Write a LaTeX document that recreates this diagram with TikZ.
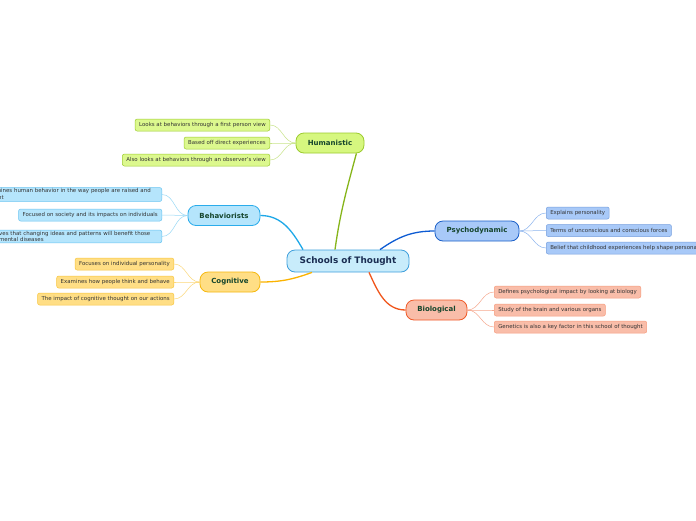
\documentclass[tikz,border=0pt]{standalone}
\usepackage{fontspec}
\setmainfont{DejaVu Sans}
\usetikzlibrary{calc}
\definecolor{rootfill}{HTML}{C8ECFB}
\definecolor{rootdraw}{HTML}{3E9FDC}
\definecolor{roottext}{HTML}{1A2D52}
\definecolor{brtext}{HTML}{15452C}
\definecolor{chtext}{HTML}{333333}
\definecolor{humfill}{HTML}{D6F77F}
\definecolor{humdraw}{HTML}{9CCB2E}
\definecolor{humline}{HTML}{86B51A}
\definecolor{humch}{HTML}{DCF88E}
\definecolor{humchline}{HTML}{C8E48A}
\definecolor{behfill}{HTML}{B5E5FC}
\definecolor{behdraw}{HTML}{2AACEB}
\definecolor{behline}{HTML}{1EA8E8}
\definecolor{behchline}{HTML}{9AD9F6}
\definecolor{cogfill}{HTML}{FFDE85}
\definecolor{cogdraw}{HTML}{F6B80E}
\definecolor{cogline}{HTML}{FBB300}
\definecolor{cogchline}{HTML}{FCD87A}
\definecolor{psyfill}{HTML}{A8C9F8}
\definecolor{psydraw}{HTML}{1A5FC8}
\definecolor{psyline}{HTML}{0D5BD3}
\definecolor{psychline}{HTML}{8CB4EE}
\definecolor{biofill}{HTML}{F9BDA9}
\definecolor{biodraw}{HTML}{F05A28}
\definecolor{bioline}{HTML}{F0561C}
\definecolor{biochline}{HTML}{F6A88E}
\tikzset{
  rootbox/.style={draw=rootdraw, fill=rootfill, line width=0.8pt, rounded corners=8pt,
    minimum width=122, minimum height=22, inner sep=0pt, font=\fontsize{8.9}{10}\selectfont\bfseries, text=roottext},
  branchbox/.style={line width=0.8pt, rounded corners=8pt, minimum height=20, inner sep=0pt,
    font=\fontsize{7}{8}\selectfont\bfseries, text=brtext},
  childbox/.style={line width=0.5pt, rounded corners=2pt, minimum height=12, inner xsep=4pt, inner ysep=1pt,
    font=\fontsize{5.45}{6.6}\selectfont, text=chtext, align=left},
  humc/.style={childbox, draw=humdraw, fill=humch},
  behc/.style={childbox, draw=behdraw!70, fill=behfill},
  cogc/.style={childbox, draw=cogdraw!80, fill=cogfill},
  psyc/.style={childbox, draw=psydraw!60, fill=psyfill},
  bioc/.style={childbox, draw=biodraw!60, fill=biofill},
  mainline/.style={line width=1.3pt},
  subline/.style={line width=0.5pt}
}
\begin{document}
\begin{tikzpicture}[x=1pt,y=-1pt]
\useasboundingbox (0,0) rectangle (696,520);
\clip (0,0) rectangle (696,520);
\fill[white] (0,0) rectangle (696,520);

% root
\node[rootbox] (root) at (348,261) {Schools of Thought};

% branches
\node[branchbox, draw=humdraw, fill=humfill, minimum width=68] (hum) at (330,143) {Humanistic};
\node[branchbox, draw=behdraw, fill=behfill, minimum width=72] (beh) at (224,215.5) {Behaviorists};
\node[branchbox, draw=cogdraw, fill=cogfill, minimum width=60] (cog) at (230,282) {Cognitive};
\node[branchbox, draw=psydraw, fill=psyfill, minimum width=84] (psy) at (477,231) {Psychodynamic};
\node[branchbox, draw=biodraw, fill=biofill, minimum width=61] (bio) at (436.5,310) {Biological};

% root connectors
\draw[mainline, humline] ($(root.north)+(-13,0)$) to[out=82,in=255] ($(hum.south east)+(-8,0)$);
\draw[mainline, behline] ($(root.north)+(-45,0)$) to[out=120,in=0] (beh.east);
\draw[mainline, cogline] ($(root.south)+(-36,0)$) to[out=200,in=0] (cog.east);
\draw[mainline, psyline] ($(root.north)+(32,0)$) to[out=35,in=180] (psy.west);
\draw[mainline, bioline] ($(root.south)+(21,0)$) to[out=-65,in=180] (bio.west);

% humanistic children
\node[humc, anchor=east] (h1) at (270,125) {Looks at behaviors through a first person view};
\node[humc, anchor=east] (h2) at (270,143) {Based off direct experiences};
\node[humc, anchor=east] (h3) at (270,160) {Also looks at behaviors through an observer's view};
\foreach \c in {h1,h2,h3} \draw[subline, humchline] (hum.west) to[out=180,in=0] (\c.east);

% behaviorists children
\node[behc, anchor=east, text width=172pt] (b1) at (162,194.5) {Examines human behavior in the way people are raised and\\taught};
\node[behc, anchor=east] (b2) at (162,215) {Focused on society and its impacts on individuals};
\node[behc, anchor=east, text width=172pt] (b3) at (162,236.5) {Believes that changing ideas and patterns will benefit those\\with mental diseases};
\foreach \c in {b1,b2,b3} \draw[subline, behchline] (beh.west) to[out=180,in=0] (\c.east);

% cognitive children
\node[cogc, anchor=east] (c1) at (174,264) {Focuses on individual personality};
\node[cogc, anchor=east] (c2) at (174,282) {Examines how people think and behave};
\node[cogc, anchor=east] (c3) at (174,299) {The impact of cognitive thought on our actions};
\foreach \c in {c1,c2,c3} \draw[subline, cogchline] (cog.west) to[out=180,in=0] (\c.east);

% psychodynamic children
\node[psyc, anchor=west] (p1) at (546,213) {Explains personality};
\node[psyc, anchor=west] (p2) at (546,230.5) {Terms of unconscious and conscious forces};
\node[psyc, anchor=west] (p3) at (546,248) {Belief that childhood experiences help shape personality};
\foreach \c in {p1,p2,p3} \draw[subline, psychline] (psy.east) to[out=0,in=180] (\c.west);

% biological children
\node[bioc, anchor=west] (g1) at (494,292) {Defines psychological impact by looking at biology};
\node[bioc, anchor=west] (g2) at (494,310) {Study of the brain and various organs};
\node[bioc, anchor=west] (g3) at (494,327) {Genetics is also a key factor in this school of thought};
\foreach \c in {g1,g2,g3} \draw[subline, biochline] (bio.east) to[out=0,in=180] (\c.west);
\end{tikzpicture}
\end{document}
